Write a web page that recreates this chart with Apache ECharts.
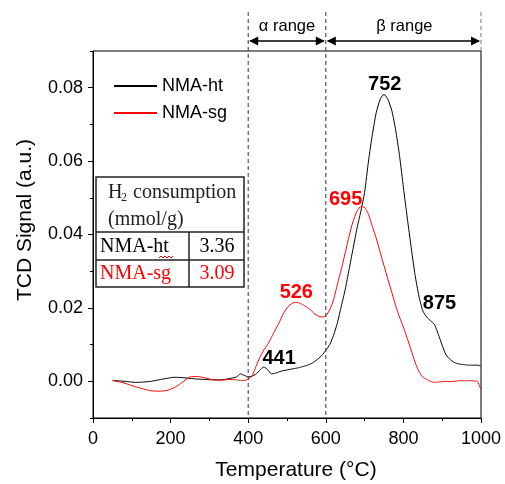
<!DOCTYPE html>
<html>
<head>
<meta charset="utf-8">
<script src="https://cdn.jsdelivr.net/npm/echarts@6/dist/echarts.min.js"></script>
<style>
html,body{margin:0;padding:0;background:#fff;}
#main{width:505px;height:484px;}
</style>
</head>
<body>
<div id="main"></div>
<script>
// temperature grid (°C) shared by both TPR curves
var temps = [50,70,90,110,130,150,170,190,210,230,250,270,290,310,330,350,370,380,390,
    400,410,420,430,440,450,460,470,480,490,500,510,520,530,540,550,560,570,580,590,
    600,610,620,630,640,650,660,670,680,690,700,710,720,730,740,750,760,770,780,790,
    800,810,820,830,840,850,860,870,880,890,900,910,920,930,940,950,960,970,980,990,1000];

var htSignal = [0.0002,0.0001,-0.0001,-0.0003,-0.0002,0.0000,0.0004,0.0008,0.0011,0.0010,0.0008,0.0006,0.0005,0.0004,0.0004,0.0007,0.0012,0.0020,0.0016,
    0.0012,0.0014,0.0020,0.0030,0.0039,0.0032,0.0020,0.0022,0.0026,0.0029,0.0031,0.0033,0.0035,0.0037,0.0040,0.0043,0.0047,0.0053,0.0061,0.0071,
    0.0084,0.0100,0.0125,0.0160,0.0205,0.0250,0.0305,0.0360,0.0415,0.0462,0.0515,0.0600,0.0672,0.0732,0.0768,0.0782,0.0768,0.0738,0.0685,0.0615,
    0.0528,0.0445,0.0365,0.0290,0.0232,0.0192,0.0175,0.0165,0.0155,0.0128,0.0098,0.0072,0.0060,0.0052,0.0048,0.0046,0.0045,0.0044,0.0044,0.0044,0.0042];

var sgSignal = [0.0002,-0.0002,-0.0008,-0.0015,-0.0021,-0.0026,-0.0027,-0.0025,-0.0017,-0.0003,0.0012,0.0013,0.0009,0.0004,0.0003,0.0005,0.0004,0.0002,0.0002,
    0.0006,0.0015,0.0040,0.0065,0.0085,0.0100,0.0120,0.0140,0.0160,0.0183,0.0200,0.0210,0.0215,0.0214,0.0209,0.0203,0.0195,0.0185,0.0178,0.0175,
    0.0178,0.0195,0.0222,0.0265,0.0305,0.0350,0.0395,0.0435,0.0463,0.0476,0.0474,0.0455,0.0422,0.0390,0.0352,0.0315,0.0278,0.0243,0.0206,0.0175,
    0.0148,0.0117,0.0085,0.0052,0.0027,0.0012,0.0005,0.0000,-0.0003,-0.0002,-0.0001,0.0000,-0.0001,0.0000,0.0001,0.0002,0.0001,0.0002,0.0001,0.0000,-0.0022];

var xMajor = [0,200,400,600,800,1000];
var xMinor = [100,300,500,700,900];
var yMajor = [0,0.02,0.04,0.06,0.08];
var yMinor = [-0.01,0.01,0.03,0.05,0.07,0.09];

// peak annotations: text, temperature, signal, colour
var peakText = ['752','695','526','441','875'];
var peakT = [752,695,524,441,875];
var peakV = [0.0782,0.0477,0.0215,0.0039,0.0155];
var peakColor = ['#000','#ff0000','#ff0000','#000','#000'];
var peakOffset = [[0,-10],[-17,-7],[0,-10],[15,-9],[7,-21]];

// H2 consumption table
var tableRows = ['NMA-ht','NMA-sg'];
var tableVals = ['3.36','3.09'];
var tableColors = ['#000','#ff0000'];

var font = 'Liberation Sans, Arial, sans-serif';
var serif = 'Liberation Serif, Times New Roman, serif';

var myChart = echarts.init(document.getElementById('main'));
var option = {
    animation: false,
    grid: {
        left: 93, right: 24, top: 51, bottom: 66,
        show: true, borderColor: '#000', borderWidth: 1
    },
    legend: {
        data: ['NMA-ht','NMA-sg'],
        orient: 'vertical',
        left: 108, top: 72,
        itemWidth: 43, itemHeight: 18, itemGap: 9,
        itemStyle: {opacity: 0},
        textStyle: {fontSize: 18, color: '#000', fontFamily: font}
    },
    xAxis: [
        {
            type: 'value', min: 0, max: 1000, interval: 100,
            axisLine: {onZero: false, lineStyle: {color: '#000', width: 1}},
            axisTick: {length: 5, customValues: xMajor, lineStyle: {color: '#000'}},
            axisLabel: {customValues: xMajor, fontSize: 18, color: '#000', fontFamily: font, margin: 12,
                formatter: function(v){ return String(v); }},
            splitLine: {show: false}
        },
        {
            type: 'value', min: 0, max: 1000, interval: 100, position: 'bottom',
            axisLine: {show: false, onZero: false},
            axisTick: {length: 3, customValues: xMinor, lineStyle: {color: '#000'}},
            axisLabel: {show: false},
            splitLine: {show: false}
        }
    ],
    yAxis: [
        {
            type: 'value', min: -0.01, max: 0.09, interval: 0.01,
            axisLine: {show: true, onZero: false, lineStyle: {color: '#000', width: 1}},
            axisTick: {show: true, length: 5, customValues: yMajor, lineStyle: {color: '#000'}},
            axisLabel: {
                customValues: yMajor, fontSize: 18, color: '#000', fontFamily: font, margin: 10,
                formatter: function(v){ return v.toFixed(2); }
            },
            splitLine: {show: false}
        },
        {
            type: 'value', min: -0.01, max: 0.09, interval: 0.01, position: 'left',
            axisLine: {show: false, onZero: false},
            axisTick: {show: true, length: 3, customValues: yMinor, lineStyle: {color: '#000'}},
            axisLabel: {show: false},
            splitLine: {show: false}
        }
    ],
    series: [
        {
            name: 'NMA-ht', type: 'line', symbol: 'none', smooth: 0.2,
            data: temps.map(function(t,i){ return [t, htSignal[i]]; }),
            lineStyle: {color: '#000', width: 1}, itemStyle: {color: '#000'}
        },
        {
            name: 'NMA-sg', type: 'line', symbol: 'none', smooth: 0.2,
            data: temps.map(function(t,i){ return [t, sgSignal[i]]; }),
            lineStyle: {color: '#ff0000', width: 1}, itemStyle: {color: '#ff0000'}
        }
    ]
};
myChart.setOption(option);

// annotations placed through the chart's own scales
function px(t, v){
    return myChart.convertToPixel({gridIndex: 0}, [t, v]);
}
var gBottom = px(0, -0.01)[1];
var x400 = px(400, 0)[0], x600 = px(600, 0)[0], x1000 = px(1000, 0)[0];
var arrowY = 41, dashTop = 12;

function arrowHead(x, y, dir){
    return {type: 'polygon', shape: {points: [[x, y], [x - dir * 9, y - 4.5], [x - dir * 9, y + 4.5]]},
        style: {fill: '#000'}, z: 10};
}
function dashLine(x, color){
    return {type: 'line', shape: {x1: x, y1: dashTop, x2: x, y2: gBottom},
        style: {stroke: color, lineWidth: 1, lineDash: [4, 3]}, z: 5};
}
function txt(x, y, text, size, color, fam, weight, align){
    return {type: 'text', x: x, y: y, z: 20,
        style: {text: text, fontSize: size, fill: color, fontFamily: fam, fontWeight: weight || 'normal',
            align: align || 'center', verticalAlign: 'middle'}};
}

var g = [];
g.push(dashLine(x400, '#333'), dashLine(x600, '#333'), dashLine(x1000, '#777'));
g.push({type: 'line', shape: {x1: x400 + 2, y1: arrowY, x2: x600 - 2, y2: arrowY}, style: {stroke: '#000', lineWidth: 1.5}, z: 10});
g.push({type: 'line', shape: {x1: x600 + 2, y1: arrowY, x2: x1000 - 2, y2: arrowY}, style: {stroke: '#000', lineWidth: 1.5}, z: 10});
g.push(arrowHead(x400 + 1, arrowY, -1), arrowHead(x600 - 1, arrowY, 1));
g.push(arrowHead(x600 + 1, arrowY, -1), arrowHead(x1000 - 1, arrowY, 1));
g.push(txt((x400 + x600) / 2, 26, 'α range', 16.5, '#000', font));
g.push(txt((x600 + x1000) / 2 + 1, 26, 'β range', 16.5, '#000', font));

// axis titles
g.push(txt(296, 470, 'Temperature (°C)', 21, '#000', font));
var yt = txt(25, 220, 'TCD Signal (a.u.)', 21, '#000', font);
yt.rotation = Math.PI / 2;
g.push(yt);

// peak labels
peakText.forEach(function(s, i){
    var p = px(peakT[i], peakV[i]);
    g.push(txt(p[0] + peakOffset[i][0], p[1] + peakOffset[i][1], s, 20, peakColor[i], font, 'bold'));
});

// table
var tx0 = 96, tx1 = 244, ty0 = 177, ty1 = 232, ty2 = 260, ty3 = 287, tcol = 189;
g.push({type: 'rect', shape: {x: tx0, y: ty0, width: tx1 - tx0, height: ty3 - ty0},
    style: {fill: '#fff', stroke: '#222', lineWidth: 1.5}, z: 15});
g.push({type: 'line', shape: {x1: tx0, y1: ty1, x2: tx1, y2: ty1}, style: {stroke: '#222', lineWidth: 1.5}, z: 16});
g.push({type: 'line', shape: {x1: tx0, y1: ty2, x2: tx1, y2: ty2}, style: {stroke: '#222', lineWidth: 1.5}, z: 16});
g.push({type: 'line', shape: {x1: tcol, y1: ty1, x2: tcol, y2: ty3}, style: {stroke: '#222', lineWidth: 1.5}, z: 16});
g.push(txt(108, 193, 'H', 20, '#222', serif, 'normal', 'left'));
g.push(txt(121, 198, '2', 12, '#222', serif, 'normal', 'left'));
g.push(txt(133, 193, 'consumption', 20, '#222', serif, 'normal', 'left'));
g.push(txt(108, 220, '(mmol/g)', 20, '#222', serif, 'normal', 'left'));
tableRows.forEach(function(r, i){
    var yy = i === 0 ? 247 : 273.5;
    g.push(txt(100, yy, r, 20, tableColors[i], serif, 'normal', 'left'));
    g.push(txt(217, yy, tableVals[i], 20, tableColors[i], serif));
});
// spell-check squiggle under "ht"
g.push({type: 'polyline', shape: {points: [[159,258],[161,256],[163,258],[165,256],[167,258],[169,256],[171,258],[173,256]]},
    style: {stroke: '#ff0000', lineWidth: 1, fill: null}, z: 20});

myChart.setOption({graphic: g});
</script>
</body>
</html>
